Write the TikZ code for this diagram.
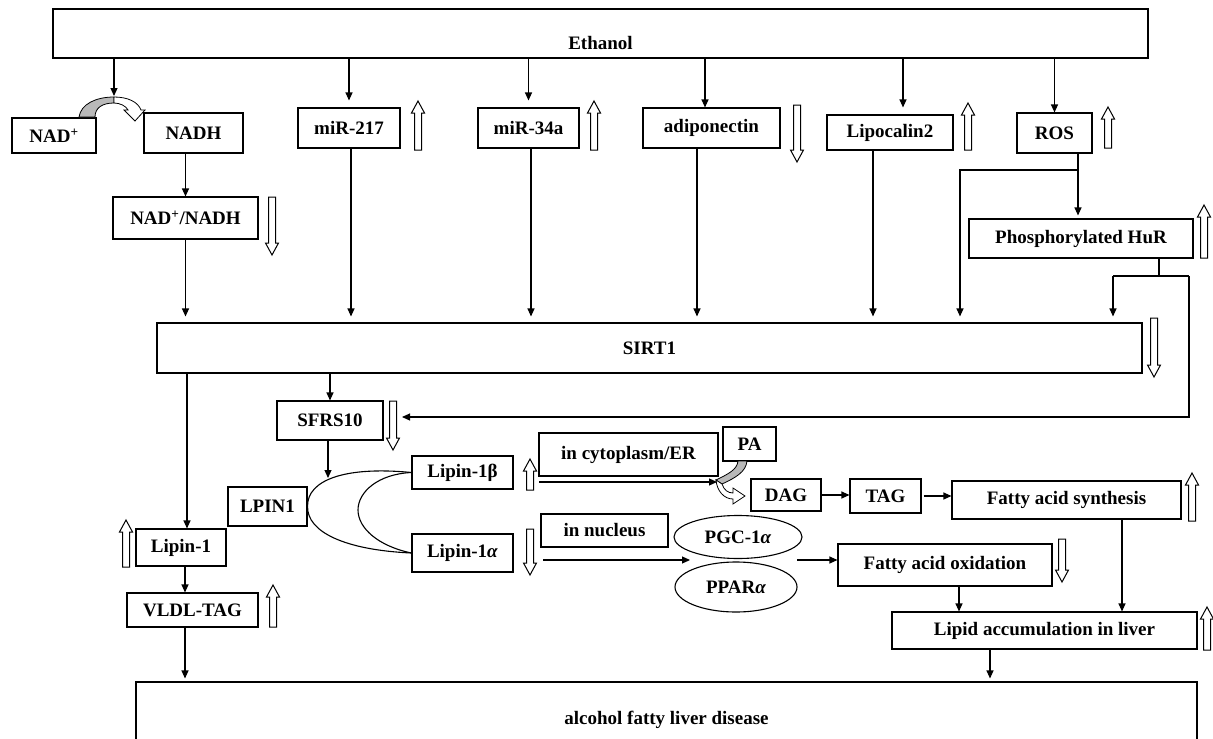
\documentclass[tikz,border=0pt]{standalone}
\usepackage{fontspec}
\setmainfont{Liberation Serif}
\usetikzlibrary{arrows.meta,calc,shapes.geometric}
\tikzset{
  box/.style={draw, line width=1.1pt, rectangle, inner sep=0pt, fill=white,
    font=\fontsize{19}{22}\selectfont\bfseries},
  oval/.style={draw, line width=1.1pt, ellipse, inner sep=0pt, fill=white,
    font=\fontsize{19}{22}\selectfont\bfseries},
  arr/.style={line width=1.1pt, -{Triangle[length=8pt,width=7pt]}},
  ln/.style={line width=1.1pt},
  hol/.style={draw, line width=1pt, fill=white, line join=miter},
  band/.style={draw, line width=0.8pt}
}
\newcommand{\hollowup}[3]{\draw[hol] ({#1-3.5},#3) -- ({#1-3.5},{#2+12}) -- ({#1-6.5},{#2+12}) -- (#1,#2) -- ({#1+6.5},{#2+12}) -- ({#1+3.5},{#2+12}) -- ({#1+3.5},#3) -- cycle;}
\newcommand{\hollowdown}[3]{\draw[hol] ({#1-3.5},#2) -- ({#1-3.5},{#3-12}) -- ({#1-6.5},{#3-12}) -- (#1,#3) -- ({#1+6.5},{#3-12}) -- ({#1+3.5},{#3-12}) -- ({#1+3.5},#2) -- cycle;}
\begin{document}
\begin{tikzpicture}[x=1pt,y=-1pt]
\useasboundingbox (0,0) rectangle (1213,739);
\clip (0,0) rectangle (1213,739);
\fill[white] (0,0) rectangle (1213,739);

% ---------- nodes ----------
\node[box, minimum width=1095, minimum height=49, text height=31.6pt, text depth=0pt] (eth) at (600.5,33.5) {Ethanol};
\node[box, minimum width=84, minimum height=35] (nadp) at (54,135.5) {NAD\textsuperscript{+}};
\node[box, minimum width=99, minimum height=40] (nadh) at (193.5,133) {NADH};
\node[box, minimum width=145, minimum height=42] (ratio) at (185.5,218) {NAD\textsuperscript{+}/NADH};
\node[box, minimum width=102, minimum height=40] (mir217) at (349,128) {miR-217};
\node[box, minimum width=101, minimum height=40] (mir34) at (528.5,128) {miR-34a};
\node[box, minimum width=137, minimum height=40] (adipo) at (711.5,128) {adiponectin};
\node[box, minimum width=126, minimum height=35] (lipo) at (890,132.5) {Lipocalin2};
\node[box, minimum width=75, minimum height=40] (ros) at (1054.5,133) {ROS};
\node[box, minimum width=224, minimum height=39] (hur) at (1081,238.5) {Phosphorylated HuR};
\node[box, minimum width=985, minimum height=50] (sirt) at (649.5,348) {SIRT1};
\node[box, minimum width=106, minimum height=39] (sfrs) at (330,420.5) {SFRS10};
\node[box, minimum width=79, minimum height=39] (lpin) at (267.5,506.5) {LPIN1};
\node[box, minimum width=101, minimum height=33] (lb) at (462.5,472.5) {Lipin-1β};
\node[box, minimum width=101, minimum height=38] (la) at (462.5,553) {Lipin-1\textit{α}};
\node[box, minimum width=179, minimum height=43] (cyto) at (628.5,454.5) {in cytoplasm/ER};
\node[box, minimum width=53, minimum height=34] (pa) at (749.5,444) {PA};
\node[box, minimum width=70, minimum height=32] (dag) at (786,495) {DAG};
\node[box, minimum width=71, minimum height=34] (tag) at (885.5,496) {TAG};
\node[box, minimum width=229, minimum height=38] (fas) at (1066.5,500) {Fatty acid synthesis};
\node[box, minimum width=127, minimum height=33] (nucl) at (604.5,530.5) {in nucleus};
\node[oval, minimum width=128, minimum height=43] (pgc) at (738,537) {PGC-1\textit{α}};
\node[oval, minimum width=122, minimum height=50] (ppar) at (736,587) {PPAR\textit{α}};
\node[box, minimum width=214, minimum height=42] (fao) at (945,565) {Fatty acid oxidation};
\node[box, minimum width=305, minimum height=37] (lipid) at (1044.5,630.5) {Lipid accumulation in liver};
\node[box, minimum width=90, minimum height=37] (lip1) at (181,547.5) {Lipin-1};
\node[box, minimum width=131, minimum height=34] (vldl) at (192.5,610) {VLDL-TAG};
\node[box, minimum width=1061, minimum height=76] (afld) at (666.5,720) {alcohol fatty liver disease};

% ---------- curved arrow NAD+ -> NADH ----------
\filldraw[band, fill=gray!55] (79,117) .. controls (81,104) and (96,97) .. (114,97) -- (114,103) .. controls (102,103) and (95,108) .. (95,117) -- cycle;
\filldraw[band, fill=white] (114,97) .. controls (128,97) and (138,102) .. (141,110) -- (145,110) -- (135,121) -- (124,110) -- (128,110) .. controls (126,106) and (120,103) .. (114,103) -- cycle;
\coordinate (nadtop) at (114,97);

% ---------- curved arrow PA -> DAG ----------
\filldraw[band, fill=gray!55] (738,461) -- (747,461) .. controls (746,472) and (735,478) .. (722,484) -- (716,480) .. controls (728,474) and (737,470) .. (738,461) -- cycle;
\filldraw[band, fill=white] (722,484) .. controls (724,490) and (728,493) .. (733,493) -- (733,488) -- (745,496) -- (733,504) -- (733,499) .. controls (724,499) and (717,491) .. (716,480) -- cycle;

% ---------- connectors from Ethanol ----------
\draw[arr, shorten >=1pt] (eth.south -| nadtop) -- (nadtop);
\draw[arr, shorten >=7pt] (eth.south -| mir217.north) -- (mir217.north);
\draw[arr, shorten >=7pt] (eth.south -| mir34.north) -- (mir34.north);
\coordinate (ad0) at ([xshift=-6.5]adipo.north);
\draw[arr] (eth.south -| ad0) -- (ad0);
\coordinate (lp0) at ([xshift=13]lipo.north);
\draw[arr, shorten >=7pt] (eth.south -| lp0) -- (lp0);
\draw[arr] (eth.south -| ros.north) -- (ros.north);

% ---------- into SIRT1 ----------
\draw[arr] (ratio.north |- nadh.south) -- (ratio.north);
\draw[arr, shorten >=6pt] (ratio.south) -- (ratio.south |- sirt.north);
\coordinate (m1) at ([xshift=2]mir217.south);
\draw[arr, shorten >=6pt] (m1) -- (m1 |- sirt.north);
\coordinate (m2) at ([xshift=2.5]mir34.south);
\draw[arr, shorten >=6pt] (m2) -- (m2 |- sirt.north);
\coordinate (ad1) at ([xshift=-14.5]adipo.south);
\draw[arr, shorten >=6pt] (ad1) -- (ad1 |- sirt.north);
\coordinate (lp1) at ([xshift=-17]lipo.south);
\draw[arr, shorten >=6pt] (lp1) -- (lp1 |- sirt.north);

% ROS branches
\coordinate (r0) at ([xshift=23.5]ros.south);
\coordinate (rj) at (1078,170);
\coordinate (rl) at (960,170);
\draw[ln] (r0) -- (rj);
\draw[arr, shorten >=3pt] (rj) -- (rj |- hur.north);
\draw[arr, shorten >=6pt] (rj) -- (rl) -- (rl |- sirt.north);

% HuR branches
\coordinate (h1) at ([xshift=78]hur.south);
\coordinate (hj) at (1159,276);
\coordinate (hl) at (1113,276);
\coordinate (hr) at (1189,276);
\coordinate (sfin) at (402,417);
\draw[ln] (h1) -- (hj);
\draw[ln] (hl) -- (hr);
\draw[arr, shorten >=6pt] (hl) -- (hl |- sirt.north);
\draw[arr] (hr) |- (sfin);

% ---------- SIRT1 downstream ----------
\draw[arr] (sfrs.north |- sirt.south) -- (sfrs.north);
\coordinate (arcpt) at (328,478);
\draw[arr] (sfrs.south -| arcpt) -- (arcpt);

\coordinate (l1) at ([xshift=6]lip1.north);
\draw[arr] (l1 |- sirt.south) -- (l1);
\coordinate (l2) at ([xshift=4]lip1.south);
\draw[arr] (l2) -- (l2 |- vldl.north);
\coordinate (v1) at ([xshift=-7.5]vldl.south);
\draw[arr, shorten >=3pt] (v1) -- (v1 |- afld.north);

% LPIN1 crescent
\draw[line width=1.1pt] (lb.west) .. controls (345,466) and (307,480) .. (lpin.east) .. controls (307,532) and (345,550) .. (la.west);
\draw[line width=1.1pt] (lb.west) .. controls (378,474) and (358,492) .. (358,510) .. controls (358,528) and (378,546) .. (la.west);

% Lipin-1 beta / alpha lines
\coordinate (b0) at (539,482);
\coordinate (paj) at (717,482);
\draw[arr] (b0) -- (paj);
\coordinate (a0) at (543,560);
\coordinate (nuj) at (690,560);
\draw[arr] (a0) -- (nuj);
\coordinate (e0) at (797,560);
\draw[arr] (e0) -- (e0 -| fao.west);

\draw[arr] (dag.east) -- (dag.east -| tag.west);
\draw[arr] ([xshift=2]tag.east) -- (tag.east -| fas.west);

\coordinate (f1) at ([xshift=55.5]fas.south);
\draw[arr] (f1) -- (f1 |- lipid.north);
\coordinate (f2) at ([xshift=14]fao.south);
\draw[arr] (f2) -- (f2 |- lipid.north);
\coordinate (f3) at ([xshift=-54.5]lipid.south);
\draw[arr, shorten >=3pt] (f3) -- (f3 |- afld.north);

% ---------- hollow up/down arrows ----------
\hollowdown{272}{197}{255}
\hollowup{418}{101}{150}
\hollowup{594}{101}{150}
\hollowdown{797}{105}{162}
\hollowup{968}{103}{150}
\hollowup{1108}{107}{148}
\hollowup{1204}{205}{258}
\hollowdown{1154}{318}{377}
\hollowdown{393}{401}{450}
\hollowup{530}{459}{490}
\hollowdown{530}{529}{575}
\hollowup{126}{520}{567}
\hollowup{273}{585}{627}
\hollowup{1192}{473}{521}
\hollowdown{1062}{539}{582}
\hollowup{1207}{607}{650}
\end{tikzpicture}
\end{document}
